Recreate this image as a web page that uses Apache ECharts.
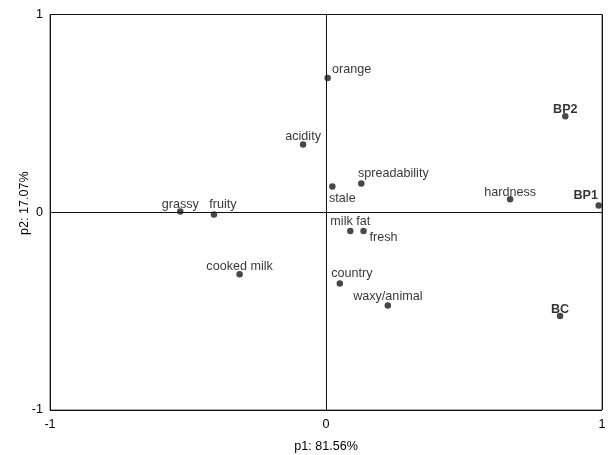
<!DOCTYPE html>
<html>
<head>
<meta charset="utf-8">
<script src="https://cdn.jsdelivr.net/npm/echarts@6/dist/echarts.min.js"></script>
<style>
html,body{margin:0;padding:0;background:#fff;}
#chart{width:609px;height:455px;}
</style>
</head>
<body>
<div id="chart"></div>
<script>
// Attribute (variable) names and their coordinates on p1 / p2
var attrNames = ['orange', 'acidity', 'stale', 'spreadability', 'milk fat', 'fresh', 'country', 'waxy/animal', 'grassy', 'fruity', 'cooked milk', 'hardness'];
var attrP1 = [0.006, -0.083, 0.023, 0.128, 0.088, 0.136, 0.050, 0.224, -0.528, -0.406, -0.313, 0.667];
var attrP2 = [0.679, 0.342, 0.130, 0.145, -0.095, -0.095, -0.360, -0.471, 0.004, -0.011, -0.314, 0.066];

// Product (observation) names and coordinates
var prodNames = ['BP2', 'BP1', 'BC'];
var prodP1 = [0.867, 0.988, 0.848];
var prodP2 = [0.485, 0.034, -0.525];

// Axis ticks
var axisMin = -1, axisMax = 1, axisStep = 1;
var xTitle = 'p1: 81.56%';
var yTitle = 'p2: 17.07%';

// Label placement (pixel offsets of label centre from the point)
var labelOffsets = {
  'orange': [24, -8], 'acidity': [0, -8], 'stale': [10, 12], 'spreadability': [32, -10],
  'milk fat': [0, -10], 'fresh': [20, 6], 'country': [12, -10], 'waxy/animal': [0, -8.5],
  'grassy': [0, -7], 'fruity': [9, -10], 'cooked milk': [0, -8], 'hardness': [0, -7],
  'BP2': [0, -7], 'BP1': [-13, -10], 'BC': [0, -7]
};

var FONT = 'Liberation Sans, Arial, sans-serif';

function buildData(names, xs, ys) {
  return names.map(function (n, i) {
    var off = labelOffsets[n] || [0, -8];
    return {
      name: n,
      value: [xs[i], ys[i]],
      label: { offset: off }
    };
  });
}

var chart = echarts.init(document.getElementById('chart'), null, { renderer: 'canvas' });
chart.setOption({
  animation: false,
  backgroundColor: '#ffffff',
  grid: {
    left: 50, right: 7, top: 14.5, bottom: 45,
    outerBoundsMode: 'none', containLabel: false,
    show: true, borderColor: '#555555', borderWidth: 1, backgroundColor: 'transparent'
  },
  xAxis: {
    type: 'value', min: axisMin, max: axisMax, interval: axisStep,
    name: xTitle, nameLocation: 'middle', nameGap: 30, nameMoveOverlap: false,
    nameTextStyle: { fontFamily: FONT, fontSize: 12.6, color: '#000' },
    axisLine: { show: false },
    axisTick: { show: false },
    axisLabel: { fontFamily: FONT, fontSize: 12.6, color: '#000', margin: 8 },
    splitLine: { show: true, lineStyle: { color: '#111', width: 1 } }
  },
  yAxis: {
    type: 'value', min: axisMin, max: axisMax, interval: axisStep,
    name: yTitle, nameLocation: 'middle', nameGap: 19, nameRotate: 90, nameMoveOverlap: false,
    nameTextStyle: { fontFamily: FONT, fontSize: 12.6, color: '#000', padding: [0, 0, 0, 18] },
    axisLine: { show: false },
    axisTick: { show: false },
    axisLabel: { fontFamily: FONT, fontSize: 12.6, color: '#000', margin: 7 },
    splitLine: { show: true, lineStyle: { color: '#111', width: 1 } }
  },
  series: [
    {
      type: 'scatter', name: 'attributes',
      symbol: 'circle', symbolSize: 6.5,
      itemStyle: { color: '#1a1a1a' },
      label: {
        show: true, position: 'inside', align: 'center', verticalAlign: 'middle',
        formatter: '{b}', fontFamily: FONT, fontSize: 12.6, color: '#000'
      },
      data: buildData(attrNames, attrP1, attrP2)
    },
    {
      type: 'scatter', name: 'products',
      symbol: 'circle', symbolSize: 6.5,
      itemStyle: { color: '#1a1a1a' },
      label: {
        show: true, position: 'inside', align: 'center', verticalAlign: 'middle',
        formatter: '{b}', fontFamily: FONT, fontSize: 12.6, fontWeight: 'bold', color: '#000'
      },
      data: buildData(prodNames, prodP1, prodP2)
    }
  ]
});
</script>
</body>
</html>
